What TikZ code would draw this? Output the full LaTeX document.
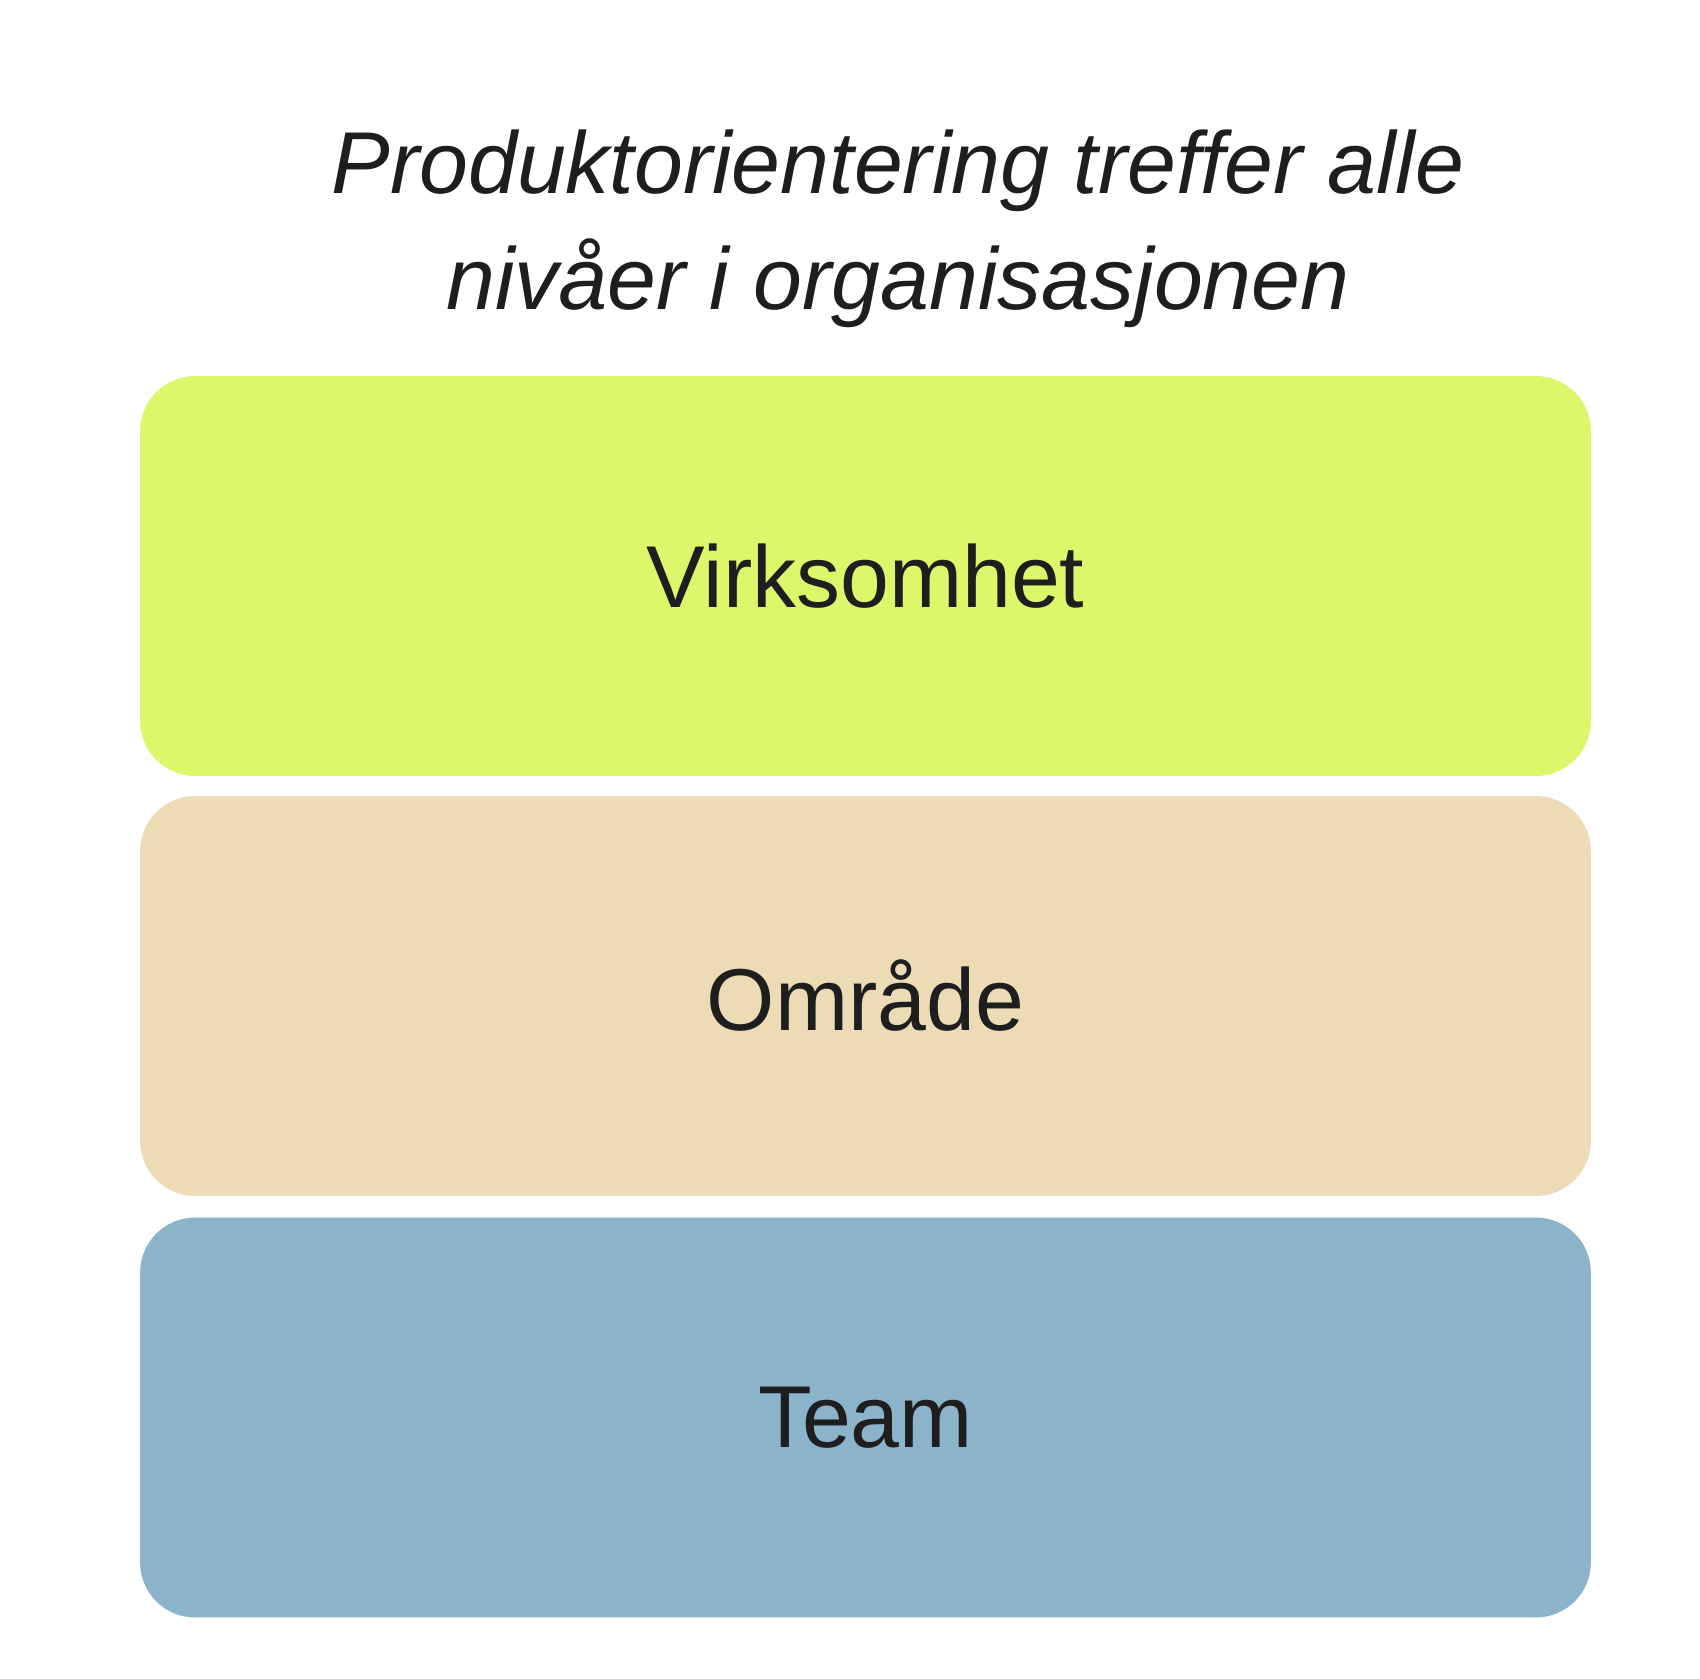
\documentclass[tikz,border=0pt]{standalone}
\usepackage{fontspec}
\setmainfont{Liberation Sans}
\definecolor{cgreen}{HTML}{DCF86A}
\definecolor{cbeige}{HTML}{EDDBB6}
\definecolor{cblue}{HTML}{8BB4CB}
\definecolor{ctext}{HTML}{1E1E1E}
\begin{document}
\begin{tikzpicture}[x=0.02cm,y=-0.02cm,
  level/.style={rounded corners=1.1cm,minimum width=29.02cm,minimum height=8cm,inner sep=0pt,text=ctext,font=\fontsize{50}{60}\selectfont},
  ttl/.style={text=ctext,font=\fontsize{50}{66}\selectfont\itshape,align=center}]
\useasboundingbox[fill=white] (0,0) rectangle (1700,1679);
\node[ttl] (title) at (898,229) {Produktorientering treffer alle\\nivåer i organisasjonen};
\node[level,fill=cgreen] (v) at (865.5,576) {Virksomhet};
\node[level,fill=cbeige] (o) at (865.5,996) {Område};
\node[level,fill=cblue] (t) at (865.5,1417.5) {Team};
\end{tikzpicture}
\end{document}
